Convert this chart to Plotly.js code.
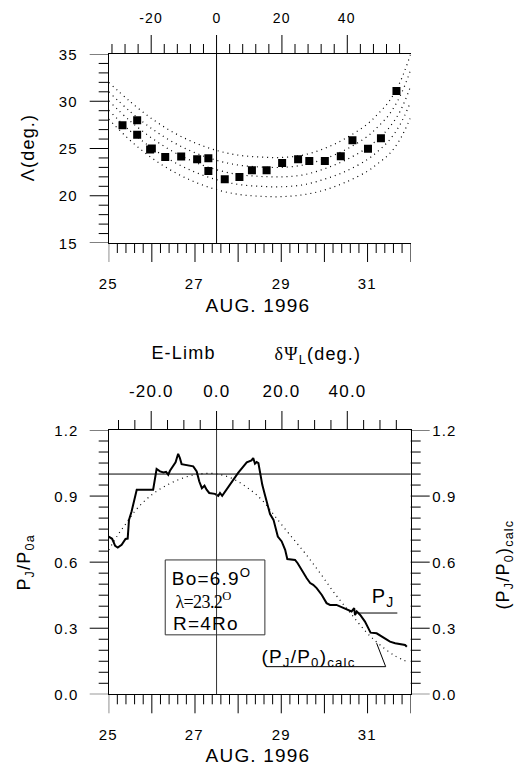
<!DOCTYPE html>
<html><head><meta charset="utf-8">
<script src="https://cdn.plot.ly/plotly-3.0.1.min.js"></script>
<style>
html,body{margin:0;padding:0;background:#fff}
#chart{width:515px;height:769px}
#chart .main-svg text{letter-spacing:1.2px}
</style>
</head><body><div id="chart"></div>
<script>
// ---------- data: top panel (Lambda vs date) ----------
const obsDays   = [25.32,25.66,25.66,25.96,26.00,26.31,26.68,27.05,27.31,27.31,27.69,28.03,28.32,28.66,29.02,29.39,29.65,30.01,30.38,30.65,31.01,31.31,31.67];
const obsLambda = [27.45,27.98,26.46,24.90,25.00,24.10,24.15,23.85,23.97,22.62,21.74,21.98,22.69,22.69,23.47,23.85,23.67,23.67,24.17,25.87,24.98,26.08,31.08];

const curveDays = [25.0,25.5,26.0,26.5,27.0,27.5,28.0,28.5,29.0,29.5,30.0,30.5,31.0,31.25,31.5,31.75,32.0];
const curveA = [32.0,29.95,28.15,26.7,25.6,24.8,24.3,24.1,24.05,24.3,25.0,26.1,27.6,28.7,30.0,32.0,35.0];
const curveB = [31.0,28.9,27.1,25.65,24.55,23.75,23.25,23.05,23.0,23.25,23.9,24.9,26.3,27.35,28.6,30.5,33.3];
const curveC = [30.05,27.9,26.1,24.65,23.55,22.75,22.25,22.05,22.0,22.2,22.85,23.8,25.1,26.05,27.2,28.9,31.6];
const curveD = [29.05,26.85,25.05,23.6,22.5,21.7,21.2,21.0,20.95,21.15,21.75,22.6,23.85,24.75,25.85,27.5,29.95];
const curveE = [28.1,25.85,24.0,22.55,21.45,20.65,20.15,19.95,19.9,20.1,20.6,21.45,22.6,23.45,24.4,25.95,28.3];

// ---------- data: bottom panel (P_J/P_0a vs date) ----------
const pjDays = [25.00,25.08,25.15,25.21,25.30,25.39,25.44,25.47,25.53,25.59,25.65,26.03,26.11,26.19,26.27,26.33,26.38,26.42,26.50,26.55,26.61,26.65,26.69,26.81,26.96,27.04,27.10,27.16,27.22,27.27,27.33,27.46,27.54,27.58,27.63,28.00,28.20,28.31,28.35,28.39,28.43,28.47,28.51,28.56,28.62,28.70,28.74,28.82,28.87,28.92,29.01,29.09,29.14,29.32,29.38,29.47,29.59,29.67,29.74,29.82,29.94,30.05,30.13,30.28,30.44,30.55,30.63,30.69,30.71,30.75,30.83,30.94,31.02,31.07,31.21,31.33,31.40,31.52,31.64,31.79,31.87,31.91];
const pjVals = [0.716,0.706,0.674,0.666,0.679,0.705,0.707,0.792,0.830,0.883,0.929,0.929,1.023,1.012,1.007,1.010,0.997,1.015,1.042,1.053,1.092,1.073,1.045,1.042,1.035,1.012,0.966,0.936,0.947,0.929,0.914,0.910,0.901,0.914,0.901,1.005,1.053,1.062,1.073,1.047,1.055,1.050,1.005,0.951,0.906,0.845,0.818,0.792,0.755,0.716,0.694,0.656,0.614,0.610,0.595,0.565,0.527,0.505,0.497,0.482,0.451,0.414,0.406,0.406,0.391,0.383,0.376,0.391,0.360,0.376,0.360,0.330,0.300,0.280,0.277,0.262,0.255,0.239,0.232,0.229,0.224,0.216];

const calcDays = [25.0,25.2,25.4,25.6,25.8,26.0,26.2,26.4,26.6,26.8,27.0,27.2,27.4,27.6,27.8,28.0,28.2,28.4,28.6,28.86,29.2,29.55,29.9,30.25,30.6,30.98,31.29,31.64,31.97];
const calcVals = [0.655,0.72,0.775,0.83,0.872,0.906,0.933,0.955,0.973,0.987,0.997,1.002,1.003,0.997,0.985,0.966,0.94,0.91,0.872,0.807,0.724,0.641,0.55,0.455,0.37,0.28,0.224,0.174,0.144];

// ---------- axes / ticks ----------
const dayRange = [25, 32];
const dayTickVals = [25,26,27,28,29,30,31,32];
const dayTickText = ['25','','27','','29','','31',''];
const dayMinorStep = 0.2;
const centralDay = 27.5;
const degPerDay = 13.2;
const psiTickVals = [-20,0,20,40];
const psiTickTextTop = ['-20','0','20','40'];
const psiTickTextBot = ['-20.0','0.0','20.0','40.0'];
const psiMinorTop = [-32, 56, 4];
const psiMinorBot = [-30, 55, 5];
const lamRange = [15,35];
const lamTickVals = [15,20,25,30,35];
const lamTickText = ['15','20','25','30','35'];
const lamMinorStep = 1;
const ratioRange = [0,1.2];
const ratioTickVals = [0,0.3,0.6,0.9,1.2];
const ratioTickText = ['0.0','0.3','0.6','0.9','1.2'];
const ratioMinorStep = 0.05;
const unityLevel = 1.0;

// ---------- geometry (pixels -> paper) ----------
const W = 515, H = 769;
const px = v => v / W, py = v => 1 - v / H;
const L = 108.7, R = 410.7, TOP1 = 54, BOT1 = 243, TOP2 = 430, BOT2 = 694.3;
const xDom = [px(L), px(R)];
const yDomTop = [py(BOT1), py(TOP1)];
const yDomBot = [py(BOT2), py(TOP2)];
const psiRange = [(dayRange[0]-centralDay)*degPerDay, (dayRange[1]-centralDay)*degPerDay];
const MAJ = 19, MIN = 10;

const FONT = 'Liberation Sans, Arial, sans-serif';
const SERIF = 'Liberation Serif, Times New Roman, serif';
const tf = s => ({family: FONT, size: s, color: '#000'});
function ax(extra) {
  return Object.assign({
    showline: true, linecolor: '#000', linewidth: 1, ticks: '', showticklabels: false,
    showgrid: false, zeroline: false
  }, extra);
}
const dotted = () => ({color: '#000', width: 1.2, dash: '1px,4px', shape: 'spline'});

const traces = [];
[curveA, curveB, curveC, curveD, curveE].forEach(c => traces.push({
  x: curveDays, y: c, xaxis: 'x', yaxis: 'y', mode: 'lines', line: dotted(), hoverinfo: 'skip'
}));
traces.push({x: obsDays, y: obsLambda, xaxis: 'x', yaxis: 'y', mode: 'markers',
  marker: {symbol: 'square', size: 8, color: '#000'}});
traces.push({x: calcDays, y: calcVals, xaxis: 'x3', yaxis: 'y3', mode: 'lines', line: dotted()});
traces.push({x: pjDays, y: pjVals, xaxis: 'x3', yaxis: 'y3', mode: 'lines', line: {color: '#000', width: 2}});
// invisible helper traces so the secondary (top / right) axis lines get drawn
traces.push({x: psiRange, y: lamRange, xaxis: 'x2', yaxis: 'y', mode: 'markers', marker: {opacity: 0}, hoverinfo: 'skip'});
traces.push({x: psiRange, y: ratioRange, xaxis: 'x4', yaxis: 'y3', mode: 'markers', marker: {opacity: 0}, hoverinfo: 'skip'});
traces.push({x: dayRange, y: ratioRange, xaxis: 'x3', yaxis: 'y4', mode: 'markers', marker: {opacity: 0}, hoverinfo: 'skip'});

// ---------- tick marks (major long, minor short) ----------
function steps(a, b, s) { const out = []; const n = Math.round((b - a) / s); for (let i = 0; i <= n; i++) out.push(+(a + i * s).toFixed(6)); return out; }
const isMajor = (v, majors) => majors.some(m => Math.abs(m - v) < 1e-6);
const tickShapes = [];
function xTicks(xref, vals, majors, basePx, dir) {
  vals.forEach(v => { const len = isMajor(v, majors) ? MAJ : MIN;
    tickShapes.push({type: 'line', xref: xref, yref: 'paper', x0: v, x1: v, y0: py(basePx), y1: py(basePx + dir * len), line: {color: '#000', width: 1}}); });
}
function yTicks(yref, vals, majors, basePx, dir) {
  vals.forEach(v => { const len = isMajor(v, majors) ? MAJ : MIN;
    tickShapes.push({type: 'line', xref: 'paper', yref: yref, x0: px(basePx), x1: px(basePx + dir * len), y0: v, y1: v, line: {color: '#000', width: 1}}); });
}
xTicks('x', steps(dayRange[0], dayRange[1], dayMinorStep), dayTickVals, BOT1, +1);
xTicks('x2', steps(psiMinorTop[0], psiMinorTop[1], psiMinorTop[2]), psiTickVals, TOP1, -1);
yTicks('y', steps(lamRange[0], lamRange[1], lamMinorStep), lamTickVals, L, -1);
xTicks('x3', steps(dayRange[0], dayRange[1], dayMinorStep), dayTickVals, BOT2, +1);
xTicks('x4', steps(psiMinorBot[0], psiMinorBot[1], psiMinorBot[2]), psiTickVals, TOP2, -1);
yTicks('y3', steps(ratioRange[0], ratioRange[1], ratioMinorStep), ratioTickVals, L, -1);
yTicks('y3', steps(ratioRange[0], ratioRange[1], ratioMinorStep), ratioTickVals, R, +1);

// ---------- tick labels (placed at the tick values) ----------
const tickLabels = [];
function xLabels(xref, vals, texts, yPx, size) {
  vals.forEach((v, i) => { if (texts[i] === '') return;
    tickLabels.push({xref: xref, yref: 'paper', x: v, y: py(yPx), xanchor: 'center', yanchor: 'middle', text: texts[i], showarrow: false, font: tf(size)}); });
}
function yLabels(yref, vals, texts, xPx, anchor, size) {
  vals.forEach((v, i) => tickLabels.push({xref: 'paper', yref: yref, x: px(xPx), y: v, xanchor: anchor, yanchor: 'middle', text: texts[i], showarrow: false, font: tf(size)}));
}
xLabels('x', dayTickVals, dayTickText, 283, 15);
xLabels('x2', psiTickVals, psiTickTextTop, 17.5, 14);
yLabels('y', lamTickVals, lamTickText, 79, 'right', 15);
xLabels('x3', dayTickVals, dayTickText, 734, 15);
xLabels('x4', psiTickVals, psiTickTextBot, 391.5, 17);
yLabels('y3', ratioTickVals, ratioTickText, 79, 'right', 15);
yLabels('y3', ratioTickVals, ratioTickText, 432, 'left', 15);

const M = 'middle';
const layout = {
  width: W, height: H, margin: {l: 0, r: 0, t: 0, b: 0},
  paper_bgcolor: '#fff', plot_bgcolor: '#fff', showlegend: false,
  xaxis: ax({domain: xDom, range: dayRange, anchor: 'y'}),
  xaxis2: ax({overlaying: 'x', side: 'top', anchor: 'y', range: psiRange}),
  yaxis: ax({domain: yDomTop, range: lamRange, anchor: 'x'}),
  xaxis3: ax({domain: xDom, range: dayRange, anchor: 'y3'}),
  xaxis4: ax({overlaying: 'x3', side: 'top', anchor: 'y3', range: psiRange}),
  yaxis3: ax({domain: yDomBot, range: ratioRange, anchor: 'x3'}),
  yaxis4: ax({overlaying: 'y3', side: 'right', anchor: 'x3', range: ratioRange}),
  shapes: [
    {type: 'line', xref: 'x', yref: 'y', x0: centralDay, x1: centralDay, y0: lamRange[0], y1: lamRange[1], line: {color: '#000', width: 1}},
    {type: 'line', xref: 'x3', yref: 'y3', x0: centralDay, x1: centralDay, y0: ratioRange[0], y1: ratioRange[1], line: {color: '#333', width: 1}},
    {type: 'line', xref: 'x3', yref: 'y3', x0: dayRange[0], x1: dayRange[1], y0: unityLevel, y1: unityLevel, line: {color: '#000', width: 1}},
    {type: 'rect', xref: 'x3', yref: 'y3', x0: 26.31, x1: 28.62, y0: 0.27, y1: 0.61, line: {color: '#333', width: 1}},
    {type: 'line', xref: 'x3', yref: 'y3', x0: 30.78, x1: 31.69, y0: 0.369, y1: 0.369, line: {color: '#000', width: 1}},
    {type: 'line', xref: 'x3', yref: 'y3', x0: 28.66, x1: 31.42, y0: 0.1255, y1: 0.1255, line: {color: '#000', width: 1}},
    {type: 'line', xref: 'x3', yref: 'y3', x0: 31.42, x1: 31.21, y0: 0.1255, y1: 0.232, line: {color: '#000', width: 1}}
  ].concat(tickShapes),
  annotations: [
    {xref: 'paper', yref: 'paper', x: px(28), y: py(148), xanchor: 'center', yanchor: M, text: 'Λ(deg.)', textangle: -90, showarrow: false, font: tf(18)},
    {xref: 'paper', yref: 'paper', x: px(258), y: py(305), xanchor: 'center', yanchor: M, text: 'AUG. 1996', showarrow: false, font: tf(19)},
    {xref: 'paper', yref: 'paper', x: px(258), y: py(755), xanchor: 'center', yanchor: M, text: 'AUG. 1996', showarrow: false, font: tf(19)},
    {xref: 'paper', yref: 'paper', x: px(183), y: py(353), xanchor: 'center', yanchor: M, text: 'E-Limb', showarrow: false, font: tf(18)},
    {xref: 'paper', yref: 'paper', x: px(318), y: py(355), xanchor: 'center', yanchor: M, text: '<span style="font-family:Liberation Serif">δΨ</span><sub>L</sub>(deg.)', showarrow: false, font: tf(18)},
    {xref: 'paper', yref: 'paper', x: px(25), y: py(563), xanchor: 'center', yanchor: M, text: 'P<sub>J</sub>/P<sub>0a</sub>', textangle: -90, showarrow: false, font: tf(18)},
    {xref: 'paper', yref: 'paper', x: px(504), y: py(565), xanchor: 'center', yanchor: M, text: '(P<sub>J</sub>/P<sub>0</sub>)<sub>calc</sub>', textangle: -90, showarrow: false, font: tf(18)},
    {xref: 'paper', yref: 'paper', x: px(174), y: py(577), xanchor: 'left', yanchor: M, text: 'Bo=6.9<sup>O</sup>', showarrow: false, font: tf(19)},
    {xref: 'paper', yref: 'paper', x: px(174), y: py(600), xanchor: 'left', yanchor: M, text: '<span style="letter-spacing:-0.6px">λ=23.2</span><sup>O</sup>', showarrow: false, font: {family: SERIF, size: 18, color: '#000'}},
    {xref: 'paper', yref: 'paper', x: px(174), y: py(623), xanchor: 'left', yanchor: M, text: 'R=4Ro', showarrow: false, font: tf(19)},
    {xref: 'paper', yref: 'paper', x: px(371), y: py(597), xanchor: 'left', yanchor: M, text: 'P<sub>J</sub>', showarrow: false, font: tf(20)},
    {xref: 'paper', yref: 'paper', x: px(266), y: py(658), xanchor: 'left', yanchor: M, text: '(P<sub>J</sub>/P<sub>0</sub>)<sub>calc</sub>', showarrow: false, font: tf(19)}
  ].concat(tickLabels)
};

// deep copies so no array/object is shared between traces and layout
Plotly.newPlot('chart', JSON.parse(JSON.stringify(traces)), JSON.parse(JSON.stringify(layout)), {staticPlot: true, displayModeBar: false});
</script>
</body></html>
